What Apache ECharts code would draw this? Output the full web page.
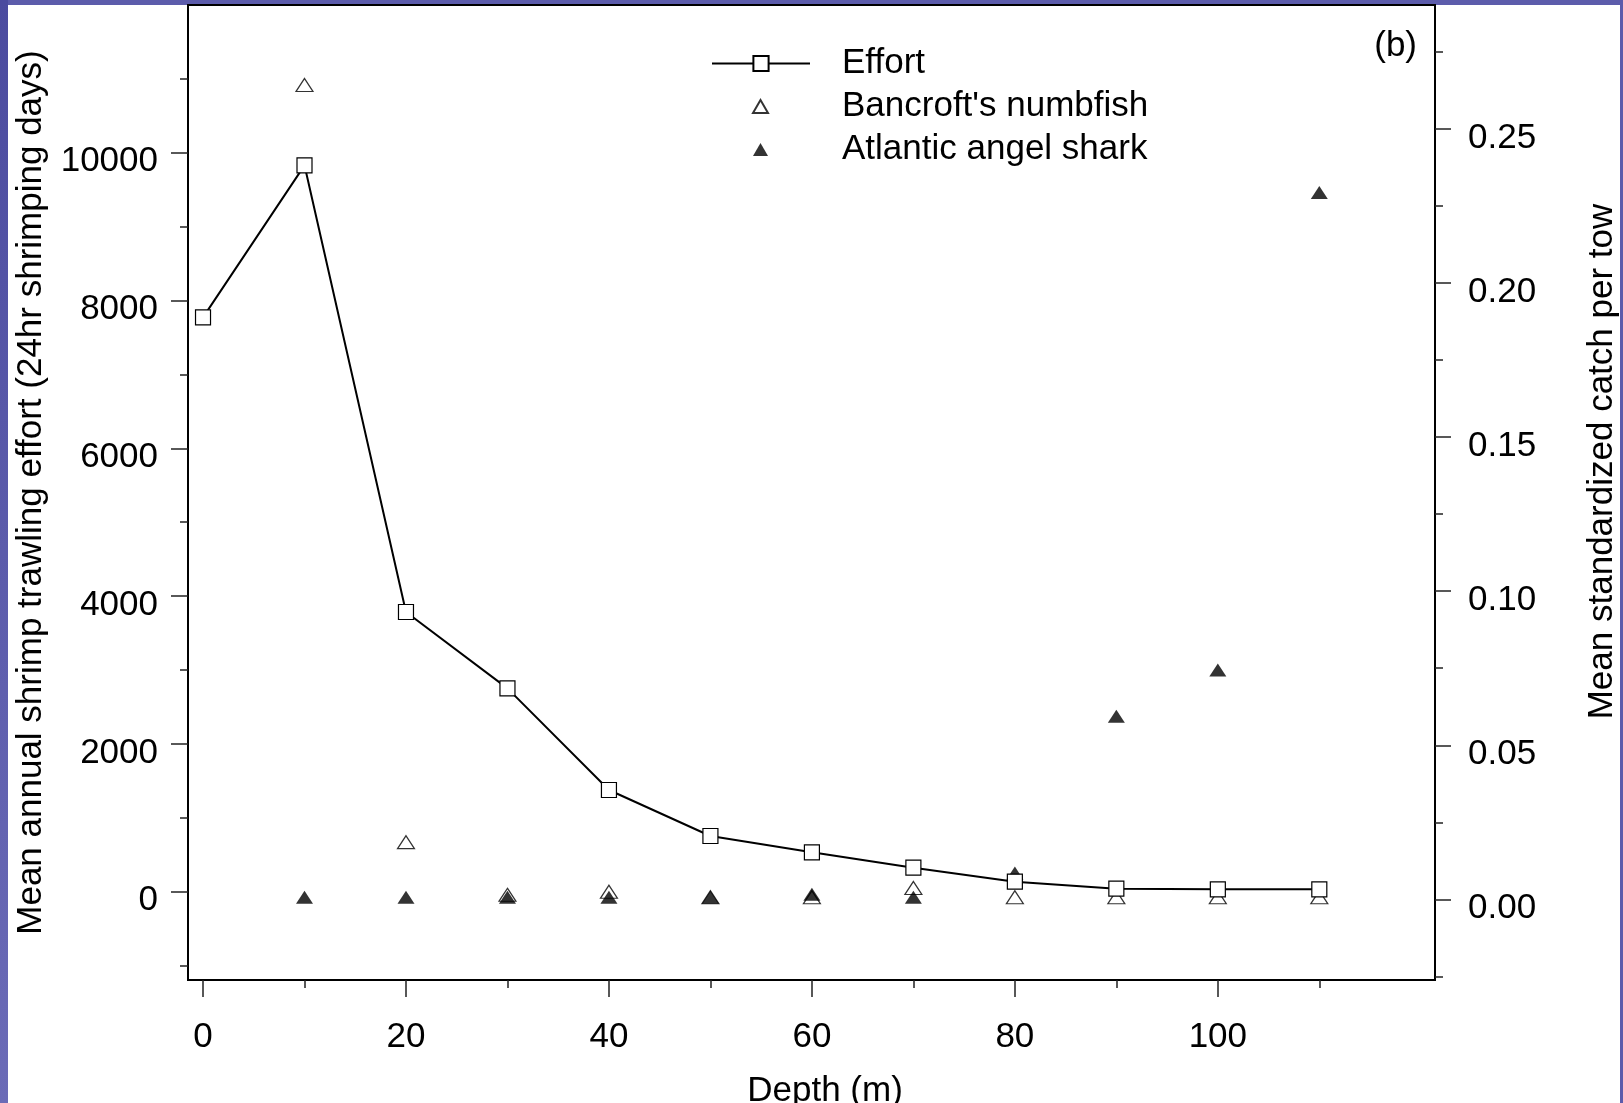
<!DOCTYPE html>
<html>
<head>
<meta charset="utf-8">
<title>Shrimp trawling effort and catch by depth</title>
<script src="https://cdn.jsdelivr.net/npm/echarts@6/dist/echarts.min.js"></script>
<style>
  html, body { margin: 0; padding: 0; background: #fff; }
  #frame { position: relative; width: 1623px; height: 1103px; background: #5c5cab; overflow: hidden; }
  #frame .edge-left { position: absolute; left: 0; top: 0; width: 8px; height: 1103px;
                      background: linear-gradient(#4b4b9f, #6b6bb7); }
  #paper { position: absolute; left: 8px; top: 5px; width: 1612px; height: 1098px; background: #fff; }
  #chart { position: absolute; left: 0; top: 0; width: 1623px; height: 1103px; }
</style>
</head>
<body>
<div id="frame">
  <div class="edge-left"></div>
  <div id="paper"></div>
  <div id="chart"></div>
</div>
<script>
// Depth bins (m)
const depth = [0, 10, 20, 30, 40, 50, 60, 70, 80, 90, 100, 110];
// Mean annual shrimp trawling effort (24hr shrimping days)
const effort = [7773, 9830, 3785, 2752, 1376, 754, 533, 325, 135, 41, 32, 32];
// Mean standardized catch per tow
const numbfish = [null, 0.2637, 0.0179, 0.0008, 0.0018, 0, 0, 0.003, 0, 0, 0, 0];
const angelShark = [null, 0, 0, 0, 0, 0, 0.001, 0, 0.0079, 0.0588, 0.0738, 0.2288];

// Tick positions
const xMajorTicks = [0, 20, 40, 60, 80, 100];
const xMinorTicks = [10, 30, 50, 70, 90, 110];
const effortMajorTicks = [0, 2000, 4000, 6000, 8000, 10000];
const effortMinorTicks = [-1000, 1000, 3000, 5000, 7000, 9000, 11000];
const catchMajorTicks = [0, 0.05, 0.1, 0.15, 0.2, 0.25];
const catchMinorTicks = [-0.025, 0.025, 0.075, 0.125, 0.175, 0.225, 0.275];

const FONT = '"Liberation Sans", Arial, Helvetica, sans-serif';
const FS = 35;
const tickStyle = { color: '#222', width: 1.5 };

const xRange = { min: -1.48, max: 121.4 };
const effortRange = { min: -1195, max: 12000 };
const catchRange = { min: -0.0262, max: 0.2903 };

const pairs = (vals) => depth.map((d, i) => [d, vals[i]]).filter(p => p[1] !== null);

function minorAxis(range, position, ticks, len) {
  return {
    type: 'value', position, min: range.min, max: range.max,
    axisLine: { show: false, onZero: false }, splitLine: { show: false },
    axisLabel: { show: false },
    axisTick: { show: true, length: len, lineStyle: tickStyle, customValues: ticks }
  };
}

// y labels sit slightly below their ticks
const yLabelStyle = { fontSize: FS, fontFamily: FONT, color: '#000', verticalAlign: 'top', lineHeight: 18 };

const chart = echarts.init(document.getElementById('chart'), null, { renderer: 'canvas' });
chart.setOption({
  animation: false,
  backgroundColor: 'transparent',
  textStyle: { fontFamily: FONT, color: '#000' },
  grid: { left: 188, right: 188, top: 5, bottom: 123, show: true, outerBoundsMode: 'none',
          containLabel: false, borderColor: '#000', borderWidth: 2, backgroundColor: 'transparent' },
  legend: [
    {
      data: ['Effort'], orient: 'vertical', left: 711, top: 46, padding: 0,
      itemWidth: 98, itemHeight: 19, selectedMode: false,
      textStyle: { fontSize: FS, fontFamily: FONT, color: '#000', padding: [0, 0, 0, 27] }
    },
    {
      data: ["Bancroft's numbfish", 'Atlantic angel shark'], orient: 'vertical',
      left: 752, top: 89, padding: 0, itemWidth: 15, itemHeight: 13, itemGap: 8,
      selectedMode: false,
      textStyle: { fontSize: FS, fontFamily: FONT, color: '#000', padding: [0, 0, 0, 69] }
    }
  ],
  xAxis: [
    {
      type: 'value', position: 'bottom', min: xRange.min, max: xRange.max,
      axisLine: { show: false, onZero: false }, splitLine: { show: false },
      axisTick: { show: true, length: 17, lineStyle: tickStyle, customValues: xMajorTicks },
      axisLabel: { customValues: xMajorTicks, margin: 40, fontSize: FS, fontFamily: FONT, color: '#000',
                   formatter: v => String(v) },
      name: 'Depth (m)', nameLocation: 'middle', nameGap: 94,
      nameTextStyle: { fontSize: FS, fontFamily: FONT, color: '#000', padding: [0, 0, 0, 27] }
    },
    minorAxis(xRange, 'bottom', xMinorTicks, 8)
  ],
  yAxis: [
    {
      type: 'value', position: 'left', min: effortRange.min, max: effortRange.max,
      axisLine: { show: false, onZero: false }, splitLine: { show: false },
      axisTick: { show: true, length: 17, lineStyle: tickStyle, customValues: effortMajorTicks },
      axisLabel: Object.assign({ customValues: effortMajorTicks, margin: 30, formatter: v => String(v) }, yLabelStyle),
      name: 'Mean annual shrimp trawling effort (24hr shrimping days)',
      nameLocation: 'middle', nameGap: 139, nameRotate: 90,
      nameTextStyle: { fontSize: FS, fontFamily: FONT, color: '#000' }
    },
    minorAxis(effortRange, 'left', effortMinorTicks, 8),
    {
      type: 'value', position: 'right', min: catchRange.min, max: catchRange.max,
      axisLine: { show: false, onZero: false }, splitLine: { show: false },
      axisTick: { show: true, length: 16, lineStyle: tickStyle, customValues: catchMajorTicks },
      axisLabel: Object.assign({ customValues: catchMajorTicks, margin: 33, formatter: v => v.toFixed(2) }, yLabelStyle),
      name: 'Mean standardized catch per tow',
      nameLocation: 'middle', nameGap: 150, nameRotate: 90,
      nameTextStyle: { fontSize: FS, fontFamily: FONT, color: '#000', padding: [0, 0, 0, 62] }
    },
    minorAxis(catchRange, 'right', catchMinorTicks, 8)
  ],
  graphic: [
    { type: 'text', right: 206, top: 29,
      style: { text: '(b)', font: FS + 'px ' + FONT, fill: '#000' } }
  ],
  series: [
    {
      name: 'Effort', type: 'line', xAxisIndex: 0, yAxisIndex: 0,
      data: pairs(effort),
      symbol: 'rect', symbolSize: 15, showAllSymbol: true,
      lineStyle: { color: '#000', width: 2 },
      itemStyle: { color: '#fff', borderColor: '#000', borderWidth: 1.2 },
      emphasis: { disabled: true }
    },
    {
      name: "Bancroft's numbfish", type: 'scatter', xAxisIndex: 0, yAxisIndex: 2,
      data: pairs(numbfish),
      symbol: 'triangle', symbolSize: [17, 13], symbolOffset: [0, -2],
      itemStyle: { color: '#fff', borderColor: '#000', borderWidth: 1.2 },
      emphasis: { disabled: true }
    },
    {
      name: 'Atlantic angel shark', type: 'scatter', xAxisIndex: 0, yAxisIndex: 2,
      data: pairs(angelShark),
      symbol: 'triangle', symbolSize: [17, 13], symbolOffset: [0, -2],
      itemStyle: { color: '#000' },
      emphasis: { disabled: true }
    }
  ]
});
</script>
</body>
</html>
